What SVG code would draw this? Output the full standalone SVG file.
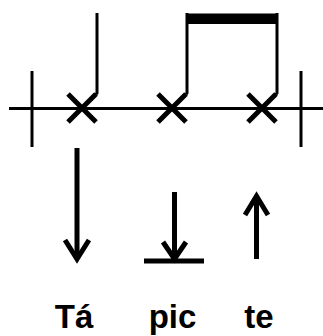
<svg xmlns="http://www.w3.org/2000/svg" width="323" height="336" viewBox="0 0 323 336">
<style>
.ln{stroke:#000;fill:none;stroke-width:3}
.x{stroke:#000;fill:none;stroke-width:5}
.ar{stroke:#000;fill:none;stroke-width:5;stroke-linejoin:miter}
.t{font-family:"Liberation Sans",Arial,sans-serif;font-weight:bold;font-size:33px;fill:#000;text-anchor:middle}
</style>
<rect width="323" height="336" fill="#fff"/>
<g id="connectors">
<line class="ln" x1="9" y1="108.5" x2="323" y2="108.5"/>
<line class="ln" x1="97" y1="108.5" x2="143" y2="108.5" stroke-width="4"/>
<line class="ln" x1="32" y1="71" x2="32" y2="147"/>
<line class="ln" x1="301" y1="71" x2="301" y2="147"/>
</g>
<g id="note1">
<path class="x" d="M68,94 L96,122 M68,122 L96,94"/>
<path class="ln" d="M96,94.5 L97,93 L97,13"/>
</g>
<g id="note2">
<path class="x" d="M158,94 L186,122 M158,122 L186,94"/>
<path class="ln" d="M186,94.5 L187,93 L187,13"/>
</g>
<g id="note3">
<path class="x" d="M248,94 L276,122 M248,122 L276,94"/>
<path class="ln" d="M276,94.5 L277,93 L277,13"/>
</g>
<g id="beam">
<rect x="186" y="13.5" width="92" height="10.5" fill="#000"/>
</g>
<g id="arrow1">
<line class="ar" x1="77" y1="148" x2="77" y2="258"/>
<path class="ar" d="M65,240 L77,259 L89,240"/>
</g>
<g id="arrow2">
<line class="ar" x1="174.5" y1="192" x2="174.5" y2="258"/>
<path class="ar" d="M163,242 L174.5,259 L186,242"/>
<line x1="144" y1="261" x2="204" y2="261" stroke="#000" stroke-width="5"/>
</g>
<g id="arrow3">
<line class="ar" x1="256.5" y1="196" x2="256.5" y2="259"/>
<path class="ar" d="M245,215 L256.5,196 L268,215"/>
</g>
<g id="labels">
<text class="t" x="74" y="328">Tá</text>
<text class="t" x="172.5" y="328">pic</text>
<text class="t" x="259" y="328">te</text>
</g>
</svg>
